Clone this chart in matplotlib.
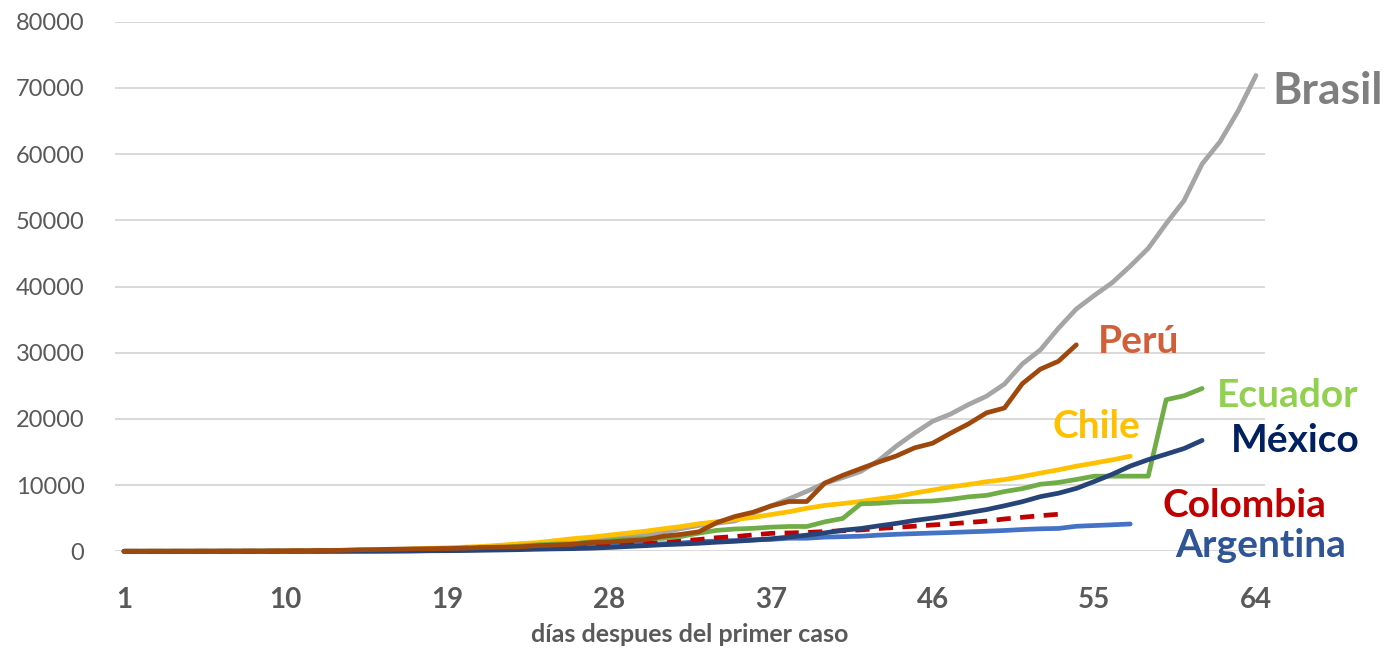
import matplotlib
matplotlib.use("Agg")
import matplotlib.pyplot as plt
import numpy as np

plt.rcParams['font.family'] = ['Lato', 'DejaVu Sans']

# ---------------- data (cumulative cases by day since first case) ----------------
brasil = [1, 1, 1, 1, 2, 2, 2, 2, 3, 8, 13, 19, 25, 25, 34, 52, 77, 98, 121, 200,
          234, 291, 428, 621, 904, 1128, 1546, 1891, 2201, 2433, 2915, 3417, 3904,
          4256, 4579, 5717, 6836, 7910, 9056, 10278, 11130, 12056, 13717, 15927,
          17857, 19638, 20727, 22169, 23430, 25262, 28320, 30425, 33682, 36599,
          38654, 40581, 43079, 45757, 49492, 52995, 58509, 61888, 66501, 71886]
peru = [1, 6, 7, 9, 11, 17, 22, 38, 43, 71, 86, 117, 145, 234, 263, 318, 363, 395,
        416, 480, 580, 635, 671, 852, 950, 1065, 1323, 1414, 1595, 1746, 2281, 2561,
        2954, 4342, 5256, 5897, 6848, 7519, 7519, 10303, 11475, 12491, 13489, 14420,
        15628, 16325, 17837, 19250, 20914, 21648, 25331, 27517, 28699, 31190]
chile = [1, 3, 4, 5, 7, 10, 13, 17, 23, 33, 43, 61, 75, 156, 201, 238, 342, 434, 537,
         632, 746, 922, 1142, 1306, 1610, 1909, 2139, 2449, 2738, 3031, 3404, 3737,
         4161, 4471, 4815, 5116, 5546, 5972, 6501, 6927, 7213, 7525, 7917, 8273, 8807,
         9252, 9730, 10088, 10507, 10832, 11296, 11812, 12306, 12858, 13331, 13813,
         14365]
ecuador = [1, 6, 7, 7, 10, 13, 14, 14, 14, 15, 15, 17, 17, 23, 28, 37, 58, 111, 168,
           260, 426, 532, 789, 981, 1082, 1173, 1403, 1595, 1823, 1924, 1962, 2240,
           2748, 3163, 3368, 3465, 3646, 3747, 3747, 4450, 4965, 7161, 7257, 7466,
           7529, 7603, 7858, 8225, 8450, 9022, 9468, 10128, 10398, 10850, 11350,
           11350, 11350, 11350, 22900, 23500, 24600]
mexico = [4, 5, 5, 5, 5, 5, 6, 6, 7, 7, 7, 8, 12, 15, 26, 41, 53, 82, 93, 118, 164,
          203, 251, 316, 367, 405, 475, 585, 717, 848, 993, 1094, 1215, 1378, 1510,
          1688, 1890, 2143, 2439, 2785, 3181, 3441, 3844, 4219, 4661, 5014, 5399,
          5847, 6297, 6875, 7497, 8261, 8772, 9501, 10544, 11633, 12872, 13842,
          14677, 15529, 16752]
colombia = [1, 1, 1, 1, 3, 3, 9, 9, 16, 24, 45, 57, 75, 102, 128, 196, 231, 277, 378,
            470, 491, 539, 608, 702, 798, 906, 1065, 1161, 1267, 1406, 1485, 1579,
            1780, 2054, 2223, 2473, 2709, 2776, 2852, 2979, 3105, 3233, 3439, 3621,
            3792, 3977, 4149, 4356, 4561, 4881, 5142, 5379, 5597]
argentina = [1, 1, 2, 8, 9, 12, 17, 19, 21, 31, 34, 45, 56, 65, 79, 97, 128, 158, 225,
             266, 301, 387, 387, 502, 589, 690, 745, 820, 1054, 1054, 1133, 1265, 1451,
             1554, 1628, 1715, 1795, 1975, 1975, 2142, 2208, 2277, 2443, 2571, 2669,
             2758, 2839, 2941, 3031, 3144, 3288, 3400, 3450, 3780, 3892, 4003, 4127]

x_ticks = [1, 10, 19, 28, 37, 46, 55, 64]
y_ticks = [0, 10000, 20000, 30000, 40000, 50000, 60000, 70000, 80000]
x_label = "días despues del primer caso"

# series: (name, values, line colour, label colour, linestyle, label x, label baseline y, fontsize)
series = [
    ("Argentina", argentina, "#4472C4", "#2F5597", "-", 59.5, -800, 28),
    ("Brasil", brasil, "#A5A5A5", "#7F7F7F", "-", 64.9, 67570, 32),
    ("Chile", chile, "#FFC000", "#FFC000", "-", 52.7, 17070, 28),
    ("Colombia", colombia, "#C00000", "#C00000", "--", 58.8, 5230, 28),
    ("Ecuador", ecuador, "#70AD47", "#92D050", "-", 61.8, 21750, 28),
    ("México", mexico, "#264478", "#002060", "-", 62.6, 15050, 28),
    ("Perú", peru, "#9E480E", "#D0603A", "-", 55.2, 30000, 28),
]

W, H = 1388, 649
fig = plt.figure(figsize=(W / 100, H / 100), dpi=100)
ax = fig.add_axes([115 / W, (H - 551.3) / H, 1150 / W, (551.3 - 21.7) / H])

for name, vals, lc, tc, ls, tx, ty, fs in series:
    days = np.arange(1, len(vals) + 1)
    ax.plot(days, vals, color=lc, lw=3.4, ls=ls, solid_capstyle='round',
            dash_capstyle='butt', dashes=(3, 2) if ls == "--" else (None, None),
            clip_on=False, zorder=3)
    ax.text(tx, ty, name, color=tc, fontsize=fs, fontweight='bold',
            ha='left', va='baseline', zorder=4)

ax.set_xlim(0.5, 64.5)
ax.set_ylim(0, 80000)
ax.set_xticks(x_ticks)
ax.set_yticks(y_ticks)
ax.set_yticklabels([str(v) for v in y_ticks])
ax.grid(axis='y', color='#D9D9D9', lw=1.4, zorder=0)
ax.set_axisbelow(True)
for s in ax.spines.values():
    s.set_visible(False)
ax.tick_params(axis='both', length=0)
ax.tick_params(axis='x', pad=26, labelsize=20, labelcolor='#595959')
ax.tick_params(axis='y', pad=22, labelsize=17, labelcolor='#595959')
for lab in ax.get_xticklabels():
    lab.set_fontweight('bold')
ax.set_xlabel(x_label, fontsize=18, fontweight='bold', color='#595959', labelpad=7)

fig.savefig("out.png", dpi=100)
